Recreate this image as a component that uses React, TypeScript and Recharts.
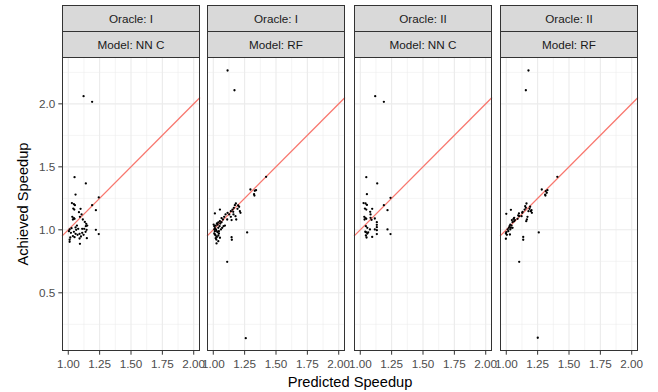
import { ScatterChart, Scatter, XAxis, YAxis, ReferenceLine } from 'recharts'

const xMajor = [1, 1.25, 1.5, 1.75, 2]
const xMinor = [1.125, 1.375, 1.625, 1.875]
const yMajor = [0.5, 1, 1.5, 2]
const yMinor = [0.25, 0.75, 1.25, 1.75, 2.25]
const identityEnds = [0.95, 2.05]

const oracleLabels = ['Oracle: I', 'Oracle: I', 'Oracle: II', 'Oracle: II']
const modelLabels = ['Model: NN C', 'Model: RF', 'Model: NN C', 'Model: RF']

const oracleINnc: [number, number][] = [
  [1.122, 2.061], [1.19, 2.016], [1.05, 1.418], [1.14, 1.368], [1.058, 1.28],
  [1.243, 1.257], [1.19, 1.196], [1.22, 1.156], [1.029, 1.212], [1.045, 1.204],
  [1.053, 1.196], [1.04, 1.169], [1.048, 1.161], [1.098, 1.167], [1.085, 1.14],
  [1.032, 1.103], [1.045, 1.093], [1.037, 1.082], [1.05, 1.087], [1.106, 1.122],
  [1.093, 1.103], [1.116, 1.082], [1.132, 1.063], [1.143, 1.048], [1.151, 1.034],
  [1.14, 1.029], [1.127, 1.008], [1.146, 1.0], [1.069, 1.034], [1.058, 1.019],
  [1.079, 1.008], [1.026, 1.013], [1.011, 1.003], [1.005, 0.989], [1.021, 0.976],
  [1.045, 0.984], [1.058, 0.968], [1.037, 0.95], [1.05, 0.942], [1.074, 0.96],
  [1.09, 0.968], [1.111, 0.976], [1.122, 0.96], [1.138, 0.984], [1.148, 0.934],
  [1.101, 0.947], [1.09, 0.931], [1.22, 1.0], [1.243, 0.966], [1.093, 0.889],
  [1.011, 0.921], [1.011, 0.905], [1.016, 0.939], [1.063, 1.0], [1.111, 1.008],
]

const oracleIRf: [number, number][] = [
  [1.114, 2.265], [1.169, 2.108], [1.421, 1.421], [1.296, 1.32], [1.331, 1.31],
  [1.341, 1.315], [1.325, 1.283], [1.328, 1.272], [1.18, 1.209], [1.172, 1.196],
  [1.164, 1.175], [1.153, 1.161], [1.159, 1.143], [1.206, 1.183], [1.212, 1.148],
  [1.217, 1.135], [1.193, 1.167], [1.198, 1.193], [1.14, 1.148], [1.053, 1.161],
  [1.013, 1.13], [1.127, 1.122], [1.14, 1.103], [1.111, 1.082], [1.177, 1.108],
  [1.183, 1.082], [1.146, 1.077], [1.098, 1.122], [1.087, 1.103], [1.066, 1.093],
  [1.077, 1.082], [1.053, 1.069], [1.04, 1.058], [1.029, 1.05], [1.019, 1.034],
  [1.008, 1.029], [1.013, 1.013], [1.021, 1.003], [1.026, 0.992], [1.034, 0.981],
  [1.045, 0.971], [1.061, 1.003], [1.071, 1.016], [1.082, 1.029], [1.093, 1.034],
  [1.05, 1.029], [1.04, 1.016], [1.013, 0.989], [1.008, 0.971], [1.019, 0.955],
  [1.029, 0.944], [1.024, 0.923], [1.026, 0.892], [1.04, 0.91], [1.053, 0.937],
  [1.008, 1.003], [1.003, 1.042], [1.034, 1.042], [1.056, 1.05], [1.066, 1.061],
  [1.013, 0.963], [1.04, 0.955], [1.019, 0.934], [1.045, 0.989], [1.114, 1.135],
  [1.161, 1.122], [1.27, 0.979], [1.146, 0.942], [1.148, 0.921], [1.111, 0.746],
  [1.259, 0.14],
]

const oracleIINnc: [number, number][] = [
  [1.119, 2.061], [1.188, 2.016], [1.048, 1.418], [1.135, 1.368], [1.053, 1.283],
  [1.241, 1.254], [1.188, 1.196], [1.217, 1.156], [1.026, 1.212], [1.042, 1.209],
  [1.053, 1.198], [1.037, 1.169], [1.048, 1.161], [1.095, 1.167], [1.079, 1.143],
  [1.082, 1.122], [1.032, 1.103], [1.042, 1.093], [1.034, 1.082], [1.048, 1.087],
  [1.116, 1.09], [1.09, 1.079], [1.082, 1.095], [1.132, 1.061], [1.132, 1.04],
  [1.132, 1.021], [1.132, 0.997], [1.132, 0.966], [1.045, 1.029], [1.056, 1.016],
  [1.045, 0.981], [1.056, 0.971], [1.045, 0.955], [1.05, 0.939], [1.095, 0.944],
  [1.077, 1.003], [1.116, 1.003], [1.217, 1.003], [1.241, 0.966], [1.063, 0.98],
  [1.04, 0.985],
]

const oracleIIRf: [number, number][] = [
  [1.177, 2.265], [1.156, 2.108], [1.407, 1.421], [1.283, 1.32], [1.315, 1.307],
  [1.323, 1.294], [1.328, 1.315], [1.31, 1.28], [1.312, 1.272], [1.161, 1.209],
  [1.151, 1.188], [1.156, 1.175], [1.146, 1.161], [1.13, 1.143], [1.19, 1.183],
  [1.185, 1.167], [1.196, 1.148], [1.204, 1.135], [1.201, 1.156], [1.177, 1.148],
  [1.037, 1.159], [1.0, 1.127], [1.101, 1.13], [1.095, 1.114], [1.063, 1.095],
  [1.058, 1.087], [1.045, 1.077], [1.05, 1.061], [1.063, 1.069], [1.032, 1.042],
  [1.042, 1.034], [1.026, 1.029], [1.021, 1.016], [1.037, 1.016], [1.011, 1.003],
  [1.0, 0.981], [0.997, 0.971], [1.005, 0.96], [1.032, 1.003], [1.05, 1.016],
  [1.016, 0.989], [0.997, 0.929], [1.029, 0.963], [1.069, 1.077], [1.09, 1.087],
  [1.122, 1.108], [1.127, 1.135], [1.103, 1.108], [1.169, 1.103], [1.164, 1.082],
  [1.159, 1.069], [1.259, 0.979], [1.135, 0.944], [1.135, 0.921], [1.103, 0.746],
  [1.251, 0.143],
]

const panelData = [oracleINnc, oracleIRf, oracleIINnc, oracleIIRf]

const FONT = '"Liberation Sans", Arial, Helvetica, sans-serif'
const PANEL_LEFTS = [62, 207, 354, 500]
const PANEL_TOP = 57
const PANEL_W = 138
const PANEL_H = 294
const STRIP_TOP = 5
const STRIP_H = 26
const PAD = 20
const Y_AXIS_W = 62

const Dot = (props: any) => <circle cx={props.cx} cy={props.cy} r={1.15} fill="#000" />

function Strip({ left, top, text }: { left: number; top: number; text: string }) {
  return (
    <div
      style={{
        position: 'absolute', left, top, width: PANEL_W, height: STRIP_H + 1,
        boxSizing: 'border-box', border: '1px solid #333333', background: '#D9D9D9',
        display: 'flex', alignItems: 'center', justifyContent: 'center',
        fontFamily: FONT, fontSize: 11.7, color: '#1A1A1A',
      }}
    >
      {text}
    </div>
  )
}

function Panel({ index }: { index: number }) {
  const left = PANEL_LEFTS[index]
  const showY = index === 0
  const pts = panelData[index].map(([x, y]) => ({ x, y }))
  const chartLeft = showY ? left - Y_AXIS_W : left - PAD
  const chartW = showY ? Y_AXIS_W + PANEL_W + PAD : PANEL_W + 2 * PAD
  const tickStyle = { fill: '#4D4D4D', fontSize: 11.7, fontFamily: FONT }
  return (
    <>
      <div style={{ position: 'absolute', left: chartLeft, top: 0 }}>
        <ScatterChart
          width={chartW}
          height={392}
          margin={{ top: PANEL_TOP, right: PAD, bottom: 0, left: showY ? 0 : PAD }}
        >
          <XAxis
            type="number" dataKey="x" domain={[0.95, 2.05]} ticks={xMajor}
            allowDataOverflow interval={0} height={392 - PANEL_TOP - PANEL_H}
            tickFormatter={(v: number) => v.toFixed(2)} tick={tickStyle}
            axisLine={false} tickLine={{ stroke: '#333333' }} tickSize={3.7} tickMargin={5}
          />
          <YAxis
            type="number" dataKey="y" domain={[0.038, 2.372]} ticks={yMajor}
            allowDataOverflow interval={0} hide={!showY} width={showY ? Y_AXIS_W : 0}
            tickFormatter={(v: number) => v.toFixed(1)} tick={tickStyle}
            axisLine={false} tickLine={{ stroke: '#333333' }} tickSize={3.7} tickMargin={3}
          />
          {xMinor.map((v) => (
            <ReferenceLine key={'xm' + v} x={v} stroke="#EBEBEB" strokeWidth={0.55} />
          ))}
          {yMinor.map((v) => (
            <ReferenceLine key={'ym' + v} y={v} stroke="#EBEBEB" strokeWidth={0.55} />
          ))}
          {xMajor.map((v) => (
            <ReferenceLine key={'xM' + v} x={v} stroke="#EBEBEB" strokeWidth={1.1} />
          ))}
          {yMajor.map((v) => (
            <ReferenceLine key={'yM' + v} y={v} stroke="#EBEBEB" strokeWidth={1.1} />
          ))}
          <Scatter data={pts} shape={Dot} isAnimationActive={false} />
          <ReferenceLine
            segment={[
              { x: identityEnds[0], y: identityEnds[0] },
              { x: identityEnds[1], y: identityEnds[1] },
            ]}
            stroke="#F8766D" strokeWidth={1.3}
          />
        </ScatterChart>
      </div>
      <div
        style={{
          position: 'absolute', left, top: PANEL_TOP, width: PANEL_W, height: PANEL_H,
          boxSizing: 'border-box', border: '1px solid #333333', pointerEvents: 'none',
        }}
      />
      <Strip left={left} top={STRIP_TOP} text={oracleLabels[index]} />
      <Strip left={left} top={STRIP_TOP + STRIP_H} text={modelLabels[index]} />
    </>
  )
}

export default function App() {
  return (
    <div
      style={{
        position: 'absolute', left: 0, top: 0, width: 658, height: 392,
        background: '#fff', overflow: 'hidden', fontFamily: FONT,
      }}
    >
      {[0, 1, 2, 3].map((i) => (
        <Panel key={i} index={i} />
      ))}
      <div
        style={{
          position: 'absolute', left: 23, top: 204, transform: 'translate(-50%, -50%) rotate(-90deg)',
          whiteSpace: 'nowrap', fontSize: 14.67, color: '#000',
        }}
      >
        Achieved Speedup
      </div>
      <div
        style={{
          position: 'absolute', left: 350, top: 382, transform: 'translate(-50%, -50%)',
          whiteSpace: 'nowrap', fontSize: 14.67, color: '#000',
        }}
      >
        Predicted Speedup
      </div>
    </div>
  )
}
